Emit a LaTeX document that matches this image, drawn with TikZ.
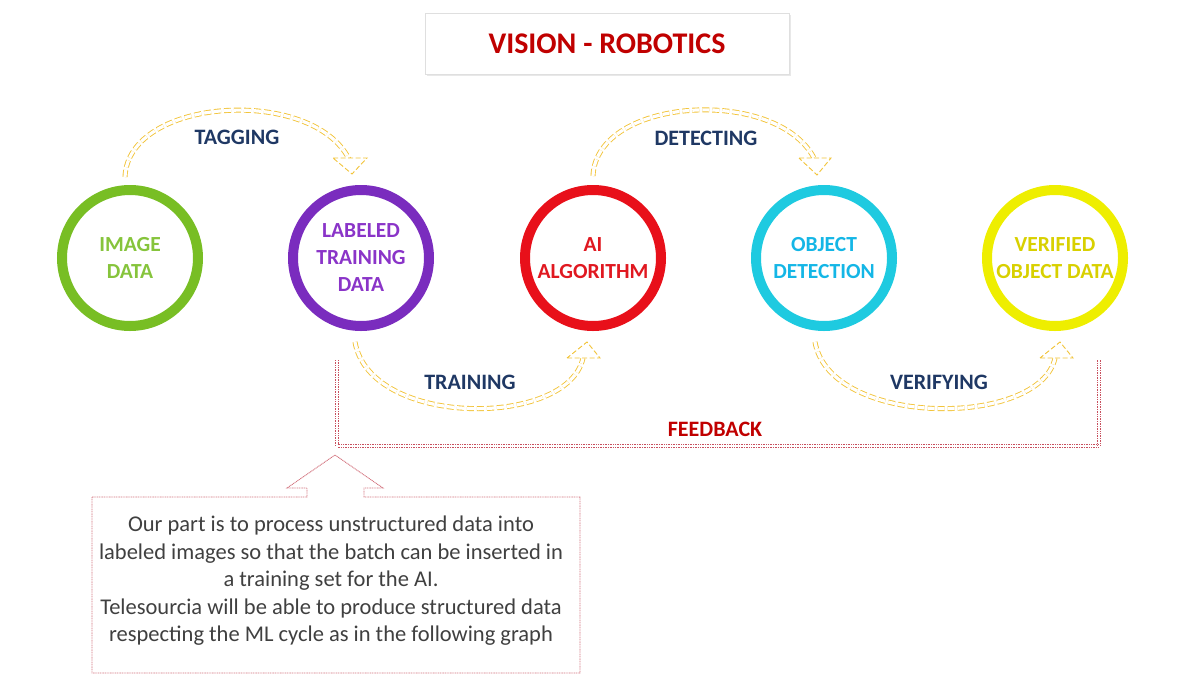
\documentclass[tikz,border=0pt]{standalone}
\usepackage{fontspec}
\setmainfont{Carlito}
\usetikzlibrary{shadows,calc}
\definecolor{gold}{HTML}{F2C43A}
\definecolor{navy}{HTML}{1F3864}
\definecolor{titlered}{HTML}{C00000}
\definecolor{ringgreen}{HTML}{78BE24}
\definecolor{txtgreen}{HTML}{86C43C}
\definecolor{ringpurple}{HTML}{7A2CBE}
\definecolor{txtpurple}{HTML}{8A34C8}
\definecolor{ringred}{HTML}{E8101A}
\definecolor{txtred}{HTML}{E01820}
\definecolor{ringcyan}{HTML}{1ECAE0}
\definecolor{txtcyan}{HTML}{14B6E6}
\definecolor{ringyellow}{HTML}{EEEE00}
\definecolor{txtyellow}{HTML}{D8D000}
\definecolor{fbcol}{HTML}{C8505E}
\definecolor{bodygray}{HTML}{404040}
\tikzset{
  ring/.style={circle, draw=#1, line width=10pt, minimum size=136pt, inner sep=0pt,
    align=center, font=\bfseries\fontsize{21.5}{27}\selectfont},
  flowline/.style={draw=gold, dash pattern=on 7pt off 3pt, line width=0.9pt,
    double=white, double distance=3.2pt},
  flowhead/.style={draw=gold, dash pattern=on 5pt off 2.5pt, line width=0.9pt, fill=white, line join=miter},
  steplabel/.style={text=navy, font=\bfseries\fontsize{22}{26}\selectfont},
  fbline/.style={draw=fbcol, dash pattern=on 1pt off 0.7pt, line width=0.8pt, double=white, double distance=1.8pt},
  callout/.style={draw=fbcol!80, dash pattern=on 1pt off 0.7pt, line width=0.9pt, fill=white},
}
\begin{document}
\begin{tikzpicture}[x=1pt,y=-1pt]
\useasboundingbox (0,0) rectangle (1200,675);

% title
\node[draw=gray!25, fill=white, minimum width=364pt, minimum height=61pt,
  drop shadow={shadow xshift=1.5pt, shadow yshift=-1.5pt, opacity=0.18},
  text=titlered, font=\bfseries\fontsize{30}{34}\selectfont] (title) at (607,44) {VISION - ROBOTICS};

% circles
\node[ring=ringgreen, text=txtgreen] (img) at (130,258) {IMAGE\\DATA};
\node[ring=ringpurple, text=txtpurple] (lab) at (361,258) {LABELED\\TRAINING\\DATA};
\node[ring=ringred, text=txtred] (ai) at (593,258) {AI\\ALGORITHM};
\node[ring=ringcyan, text=txtcyan] (obj) at (824,258) {OBJECT\\DETECTION};
\node[ring=ringyellow, text=txtyellow] (ver) at (1055,258) {VERIFIED\\OBJECT DATA};

% TAGGING
\coordinate (tagS) at (125,177);
\coordinate (tagE) at (349,159);
\draw[flowline] (tagS) .. controls (128,97) and (312,86) .. (tagE);
\draw[flowhead] (333,158) -- (367,158) -- (352,174) -- cycle;
\node[steplabel] (tag) at (237,137) {TAGGING};

% DETECTING
\coordinate (detS) at (593,176);
\coordinate (detE) at (814,158);
\draw[flowline] (detS) .. controls (596,97) and (776,86) .. (detE);
\draw[flowhead] (799,158) -- (831,158) -- (817,175) -- cycle;
\node[steplabel] (det) at (706,138) {DETECTING};

% TRAINING
\coordinate (trS) at (355,342);
\coordinate (trE) at (583,358);
\draw[flowline] (trS) .. controls (370,428) and (568,428) .. (trE);
\draw[flowhead] (567,358) -- (600,358) -- (587,342) -- cycle;
\node[steplabel] (tr) at (470,382) {TRAINING};

% VERIFYING
\coordinate (veS) at (815,342);
\coordinate (veE) at (1055,358);
\draw[flowline] (veS) .. controls (830,428) and (1040,428) .. (veE);
\draw[flowhead] (1040,358) -- (1073,358) -- (1060,342) -- cycle;
\node[steplabel] (vf) at (939,382) {VERIFYING};

% FEEDBACK
\coordinate (fbA) at (337,360);
\coordinate (fbB) at (1099,360);
\draw[fbline] (fbA) -- (337,446) -- (1099,446) -- (fbB);
\node[text=titlered, font=\bfseries\fontsize{22}{26}\selectfont] (fb) at (715,429) {FEEDBACK};

% callout
\draw[callout] (92,497) -- (307,497) -- (307,488) -- (287,488) -- (335,455) -- (383,488)
  -- (364,488) -- (364,497) -- (580,497) -- (580,673) -- (92,673) -- cycle;
\node[text=bodygray, align=center, font=\fontsize{22.5}{27.5}\selectfont] (note) at (331,581)
  {Our part is to process unstructured data into\\
   labeled images so that the batch can be inserted in\\
   a training set for the AI.\\
   Telesourcia will be able to produce structured data\\
   respecting the ML cycle as in the following graph};
\end{tikzpicture}
\end{document}
